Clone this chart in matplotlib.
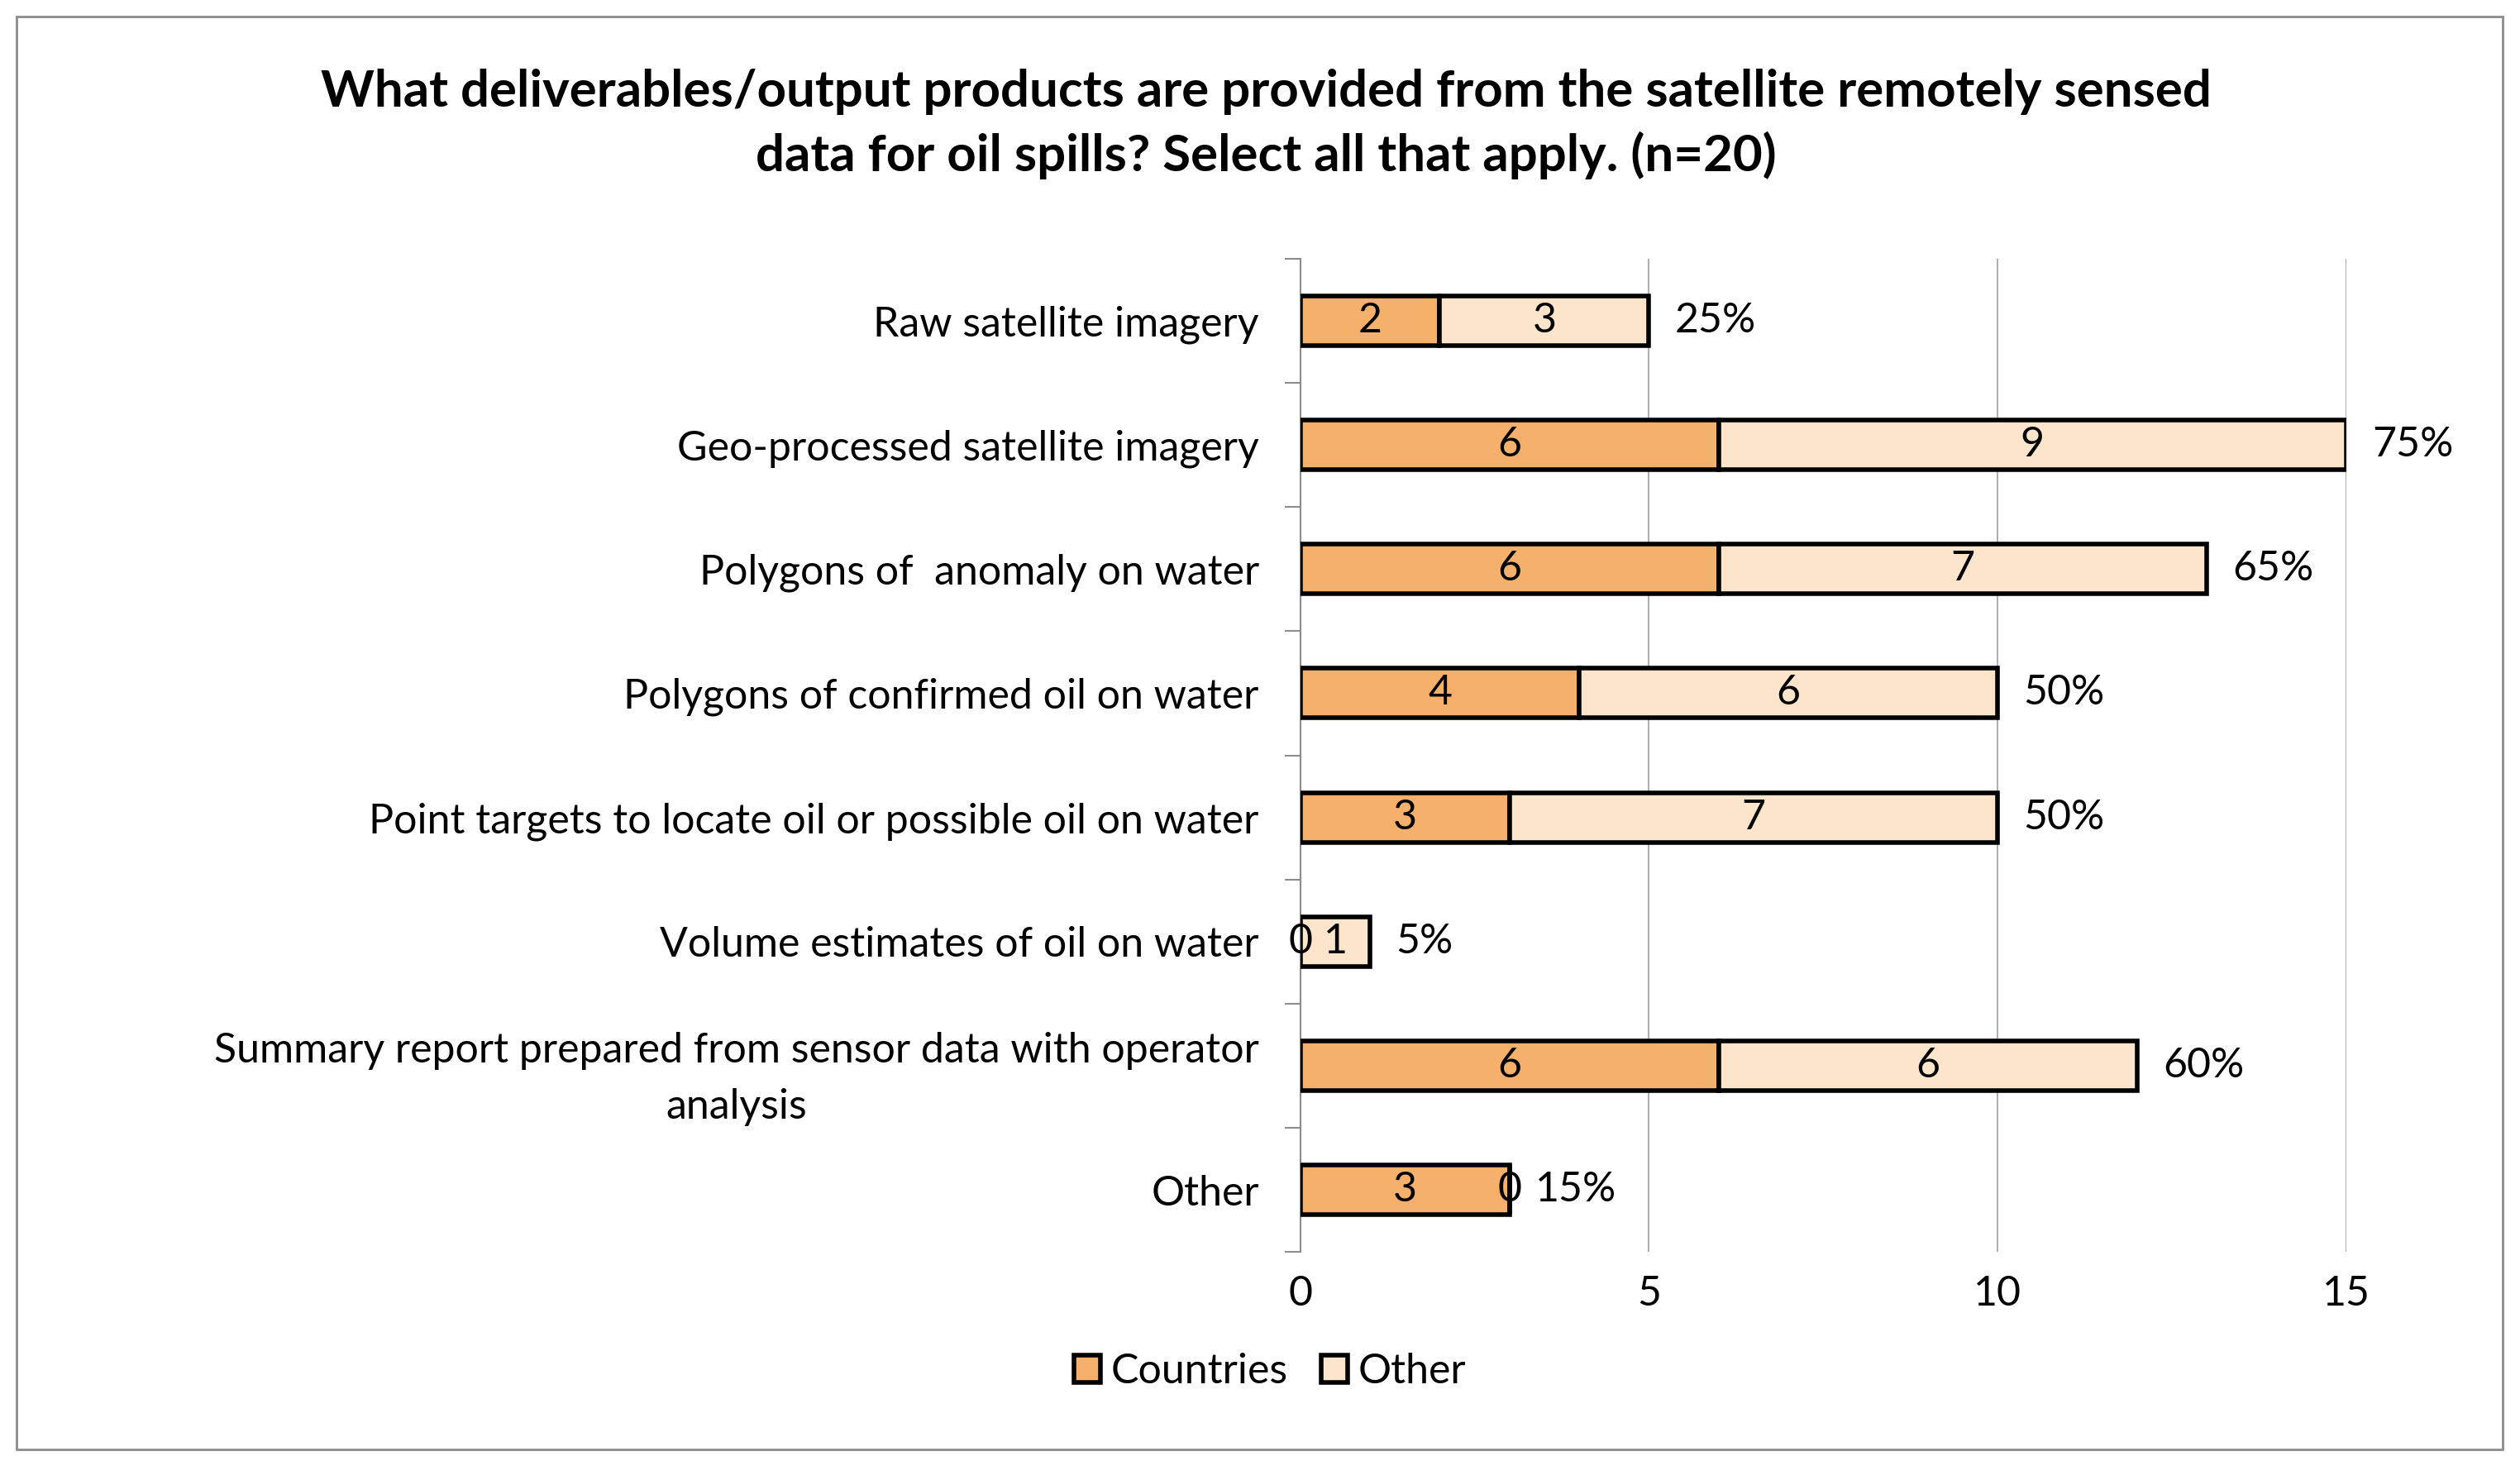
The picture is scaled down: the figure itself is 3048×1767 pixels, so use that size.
import matplotlib
matplotlib.use("Agg")
import matplotlib.pyplot as plt
from matplotlib.patches import Rectangle
import numpy as np

categories = [
    "Raw satellite imagery",
    "Geo-processed satellite imagery",
    "Polygons of  anomaly on water",
    "Polygons of confirmed oil on water",
    "Point targets to locate oil or possible oil on water",
    "Volume estimates of oil on water",
    "Summary report prepared from sensor data with operator\nanalysis",
    "Other",
]
countries = [2, 6, 6, 4, 3, 0, 6, 3]
other = [3, 9, 7, 6, 7, 1, 6, 0]
percent_labels = ["25%", "75%", "65%", "50%", "50%", "5%", "60%", "15%"]
xticks = [0, 5, 10, 15]
title = ("What deliverables/output products are provided from the satellite remotely sensed\n"
         "data for oil spills? Select all that apply. (n=20)")

plt.rcParams['font.family'] = ['Lato', 'DejaVu Sans']

c1 = "#F5B16B"
c2 = "#FDE5CB"

fig = plt.figure(figsize=(30.48, 17.67), dpi=100)
fig.patches.append(Rectangle((0.0066, 0.0079), 0.9865, 0.9807, transform=fig.transFigure,
                             fill=False, edgecolor="#8c8c8c", linewidth=2))
ax = fig.add_axes([0.516, 0.143, 0.415, 0.680])

n = len(categories)
y = np.arange(n)
h = 0.40
b1 = ax.barh(y, countries, height=h, color=c1, edgecolor="black", linewidth=4, label="Countries", zorder=3)
b2 = ax.barh(y, other, left=countries, height=h, color=c2, edgecolor="black", linewidth=4, label="Other", zorder=3)

fs = 36
for i in range(n):
    ax.text(countries[i] / 2, y[i], str(countries[i]), ha="center", va="center", fontsize=fs, zorder=4)
    ax.text(countries[i] + other[i] / 2, y[i], str(other[i]), ha="center", va="center", fontsize=fs, zorder=4)
    tot = countries[i] + other[i]
    ax.text(tot + 0.37, y[i], percent_labels[i], ha="left", va="center", fontsize=fs, zorder=4)

ax.set_xlim(0, 15)
ax.set_ylim(n - 0.5, -0.5)
ax.set_xticks(xticks)
ax.set_xticklabels([str(t) for t in xticks], fontsize=fs)
ax.tick_params(axis="x", length=0, pad=20)
ax.set_yticks(y)
ax.set_yticklabels(categories, fontsize=fs, multialignment="center", linespacing=1.6)
ax.tick_params(axis="y", length=0, pad=36)
ax.set_yticks(np.arange(-0.5, n, 1.0), minor=True)
ax.tick_params(axis="y", which="minor", length=14, width=1.5, color="#8c8c8c", direction="out")
ax.grid(axis="x", color="#b0b0b0", linewidth=1.5, zorder=0)
for s in ["top", "right", "bottom"]:
    ax.spines[s].set_visible(False)
ax.spines["left"].set_color("#8c8c8c")
ax.spines["left"].set_linewidth(1.5)

fig.text(0.5025, 0.915, title, ha="center", va="center", fontsize=44.5, fontweight="bold",
         linespacing=1.4)

leg = fig.legend(handles=[b1, b2], labels=["Countries", "Other"], loc="center",
                 bbox_to_anchor=(0.504, 0.061), ncol=2, frameon=False, fontsize=fs,
                 handlelength=0.65, handleheight=0.65, handletextpad=0.25, columnspacing=0.8)

fig.savefig("out.png", dpi=100)
